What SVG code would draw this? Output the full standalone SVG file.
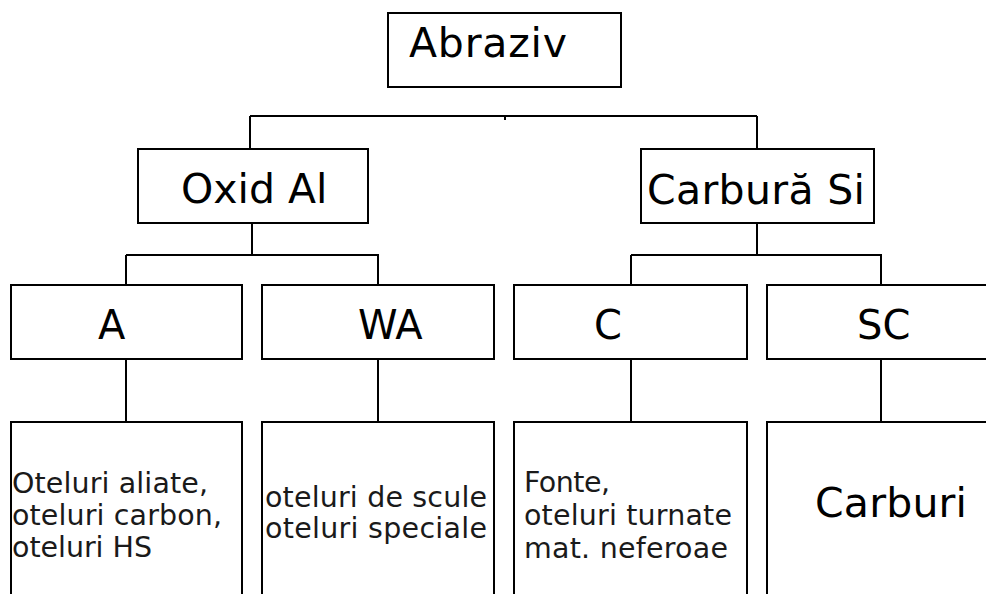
<svg xmlns="http://www.w3.org/2000/svg" width="986" height="594" viewBox="0 0 986 594">
<style>
.box{fill:#fff;stroke:#000;stroke-width:2}
.ln{stroke:#000;stroke-width:2;fill:none}
text{font-family:"DejaVu Sans",sans-serif;fill:#000}
.big{font-size:41px}
.mid{font-size:40px}
.sm{font-size:28.5px;fill:#1a1a1a}
</style>
<rect width="986" height="594" fill="#fff"/>
<g id="connectors">
<path class="ln" d="M250 116H757M505 116V120M250 116V149M757 116V149"/>
<path class="ln" d="M252 223V255M126 255H379M126 255V285M378 255V285"/>
<path class="ln" d="M757 223V255M631 255H882M631 255V285M881 255V285"/>
<path class="ln" d="M126 359V422M378 359V422M631 359V422M881 359V422"/>
</g>
<g id="abraziv"><rect class="box" x="388" y="13" width="233" height="74"/><text class="big" x="409" y="57" font-size="42" textLength="158">Abraziv</text></g>
<g id="oxid"><rect class="box" x="138" y="149" width="230" height="74"/><text class="big" x="181" y="203">Oxid Al</text></g>
<g id="carbura"><rect class="box" x="641" y="149" width="233" height="74"/><text class="big" x="647" y="204" textLength="218">Carbură Si</text></g>
<g id="a"><rect class="box" x="11" y="285" width="231" height="74"/><text class="mid" x="98" y="339">A</text></g>
<g id="wa"><rect class="box" x="262" y="285" width="232" height="74"/><text class="mid" x="358" y="339">WA</text></g>
<g id="c"><rect class="box" x="514" y="285" width="233" height="74"/><text class="mid" x="594" y="339">C</text></g>
<g id="sc"><rect class="box" x="767" y="285" width="230" height="74"/><text class="mid" x="857" y="339">SC</text></g>
<g id="a-uses"><rect class="box" x="11" y="422" width="231" height="180"/><text class="sm" x="12" y="493" textLength="196">Oteluri aliate,</text><text class="sm" x="12" y="525" textLength="210">oteluri carbon,</text><text class="sm" x="12" y="557" textLength="140">oteluri HS</text></g>
<g id="wa-uses"><rect class="box" x="262" y="422" width="232" height="180"/><text class="sm" x="265" y="507" textLength="222">oteluri de scule</text><text class="sm" x="265" y="538" textLength="222">oteluri speciale</text></g>
<g id="c-uses"><rect class="box" x="514" y="422" width="233" height="180"/><text class="sm" x="524" y="492" textLength="86">Fonte,</text><text class="sm" x="524" y="525" textLength="208">oteluri turnate</text><text class="sm" x="524" y="558" textLength="204">mat. neferoae</text></g>
<g id="sc-uses"><rect class="box" x="767" y="422" width="230" height="180"/><text class="big" x="815" y="517" textLength="152">Carburi</text></g>
</svg>
